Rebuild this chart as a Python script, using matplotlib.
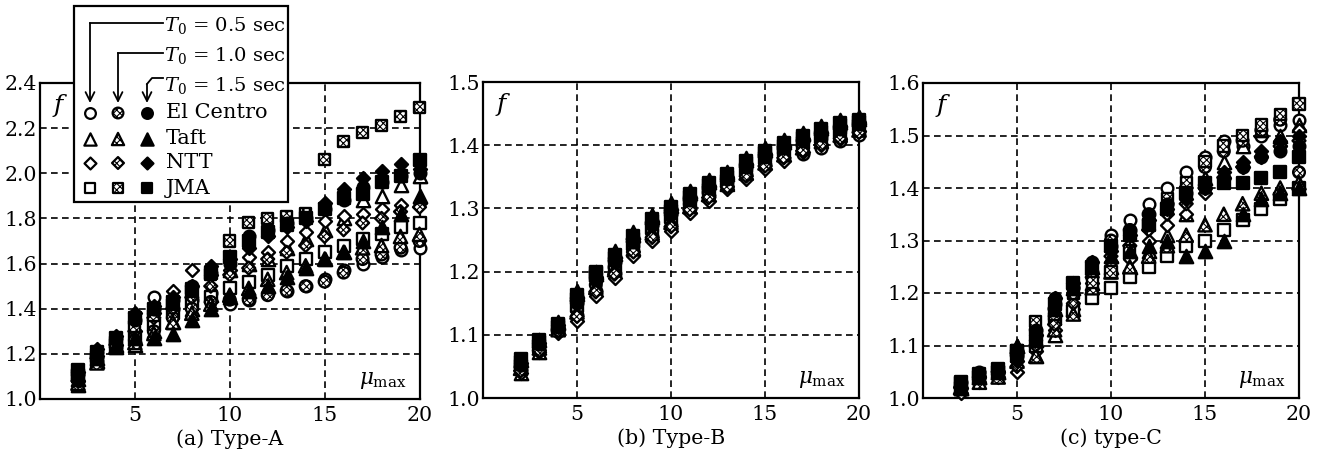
import matplotlib
matplotlib.use('Agg')
import matplotlib.pyplot as plt
from matplotlib.patches import Rectangle

plt.rcParams['font.family'] = 'DejaVu Serif'
plt.rcParams['mathtext.fontset'] = 'dejavuserif'
plt.rcParams['hatch.linewidth'] = 0.8

mu = list(range(2, 21))

# ---------------- Type-A ----------------
A_elc_05 = [1.08,1.17,1.23,1.25,1.45,1.40,1.44,1.47,1.42,1.44,1.47,1.48,1.50,1.53,1.57,1.60,1.63,1.66,1.67]
A_elc_10 = [1.09,1.17,1.23,1.26,1.30,1.36,1.40,1.43,1.44,1.44,1.46,1.48,1.50,1.52,1.56,1.62,1.64,1.67,1.70]
A_elc_15 = [1.11,1.21,1.27,1.35,1.40,1.44,1.50,1.56,1.60,1.72,1.75,1.78,1.80,1.84,1.88,1.94,1.96,1.99,2.00]
A_taft_05 = [1.06,1.17,1.23,1.24,1.30,1.34,1.40,1.46,1.57,1.60,1.62,1.67,1.71,1.75,1.80,1.88,1.90,1.95,1.99]
A_taft_10 = [1.07,1.16,1.23,1.25,1.29,1.34,1.38,1.42,1.46,1.49,1.53,1.56,1.59,1.62,1.65,1.67,1.68,1.72,1.73]
A_taft_15 = [1.09,1.18,1.24,1.27,1.27,1.29,1.35,1.40,1.45,1.48,1.50,1.54,1.58,1.62,1.65,1.70,1.76,1.82,1.90]
A_ntt_05 = [1.08,1.19,1.24,1.30,1.38,1.48,1.57,1.55,1.57,1.63,1.65,1.70,1.74,1.79,1.81,1.82,1.84,1.86,1.87]
A_ntt_10 = [1.08,1.18,1.24,1.30,1.36,1.40,1.45,1.50,1.55,1.58,1.62,1.65,1.68,1.72,1.75,1.78,1.80,1.83,1.85]
A_ntt_15 = [1.12,1.22,1.28,1.38,1.41,1.45,1.50,1.59,1.62,1.67,1.72,1.76,1.79,1.87,1.93,1.98,2.01,2.04,2.02]
A_jma_05 = [1.10,1.17,1.24,1.27,1.33,1.38,1.42,1.45,1.49,1.52,1.55,1.59,1.62,1.65,1.68,1.71,1.73,1.76,1.78]
A_jma_10 = [1.11,1.19,1.25,1.32,1.37,1.42,1.49,1.55,1.70,1.78,1.80,1.81,1.82,2.06,2.14,2.18,2.21,2.25,2.29]
A_jma_15 = [1.13,1.21,1.27,1.36,1.40,1.43,1.48,1.56,1.63,1.70,1.74,1.77,1.80,1.84,1.89,1.91,1.96,1.99,2.06]

# ---------------- Type-B ----------------
B_elc_05 = [1.044,1.076,1.106,1.132,1.170,1.198,1.232,1.256,1.274,1.300,1.319,1.336,1.353,1.369,1.380,1.386,1.396,1.406,1.416]
B_elc_10 = [1.049,1.081,1.110,1.141,1.179,1.207,1.240,1.265,1.282,1.307,1.325,1.341,1.360,1.376,1.388,1.400,1.410,1.420,1.427]
B_elc_15 = [1.053,1.085,1.113,1.151,1.187,1.215,1.247,1.273,1.291,1.313,1.332,1.347,1.366,1.382,1.395,1.406,1.416,1.426,1.433]
B_taft_05 = [1.040,1.072,1.120,1.170,1.200,1.232,1.262,1.290,1.308,1.327,1.345,1.358,1.380,1.396,1.408,1.420,1.430,1.440,1.444]
B_taft_10 = [1.047,1.079,1.108,1.136,1.175,1.203,1.236,1.261,1.278,1.303,1.322,1.338,1.356,1.372,1.385,1.396,1.406,1.416,1.424]
B_taft_15 = [1.060,1.092,1.118,1.165,1.196,1.228,1.258,1.286,1.304,1.324,1.342,1.355,1.377,1.393,1.405,1.417,1.427,1.437,1.441]
B_ntt_05 = [1.040,1.072,1.103,1.122,1.162,1.190,1.225,1.248,1.265,1.293,1.312,1.330,1.346,1.362,1.375,1.390,1.400,1.410,1.422]
B_ntt_10 = [1.043,1.075,1.106,1.129,1.168,1.196,1.231,1.254,1.271,1.298,1.317,1.334,1.351,1.367,1.380,1.391,1.401,1.411,1.420]
B_ntt_15 = [1.055,1.087,1.115,1.156,1.191,1.219,1.251,1.277,1.295,1.317,1.335,1.350,1.370,1.386,1.398,1.410,1.420,1.430,1.436]
B_jma_05 = [1.051,1.083,1.112,1.146,1.200,1.211,1.244,1.269,1.287,1.310,1.329,1.344,1.363,1.379,1.392,1.403,1.413,1.423,1.430]
B_jma_10 = [1.057,1.089,1.116,1.158,1.194,1.222,1.253,1.280,1.297,1.319,1.337,1.351,1.372,1.388,1.400,1.412,1.422,1.432,1.437]
B_jma_15 = [1.062,1.091,1.117,1.163,1.198,1.226,1.256,1.284,1.302,1.322,1.340,1.354,1.375,1.391,1.403,1.415,1.425,1.435,1.440]

# ---------------- Type-C ----------------
C_elc_05 = [1.02,1.04,1.05,1.08,1.12,1.18,1.21,1.24,1.31,1.34,1.37,1.40,1.43,1.46,1.49,1.48,1.50,1.52,1.53]
C_elc_10 = [1.02,1.04,1.05,1.08,1.13,1.17,1.21,1.23,1.30,1.32,1.35,1.37,1.40,1.44,1.47,1.49,1.51,1.53,1.43]
C_elc_15 = [1.03,1.05,1.05,1.09,1.13,1.19,1.22,1.26,1.29,1.32,1.35,1.37,1.39,1.40,1.42,1.44,1.46,1.47,1.48]
C_taft_05 = [1.02,1.04,1.05,1.10,1.08,1.12,1.17,1.22,1.25,1.25,1.28,1.31,1.35,1.42,1.45,1.48,1.51,1.50,1.52]
C_taft_10 = [1.02,1.03,1.04,1.07,1.08,1.13,1.16,1.21,1.24,1.25,1.27,1.29,1.31,1.33,1.35,1.37,1.39,1.40,1.41]
C_taft_15 = [1.02,1.04,1.05,1.10,1.11,1.17,1.21,1.25,1.27,1.28,1.29,1.30,1.27,1.28,1.30,1.35,1.38,1.39,1.40]
C_ntt_05 = [1.01,1.03,1.04,1.05,1.09,1.13,1.17,1.22,1.26,1.265,1.30,1.33,1.35,1.39,1.42,1.44,1.46,1.48,1.51]
C_ntt_10 = [1.02,1.04,1.05,1.06,1.10,1.14,1.18,1.23,1.27,1.29,1.32,1.35,1.37,1.40,1.42,1.44,1.46,1.48,1.49]
C_ntt_15 = [1.02,1.04,1.05,1.07,1.12,1.19,1.22,1.26,1.28,1.31,1.34,1.36,1.38,1.40,1.43,1.45,1.47,1.49,1.50]
C_jma_05 = [1.02,1.04,1.05,1.09,1.10,1.15,1.165,1.19,1.21,1.23,1.25,1.27,1.29,1.30,1.32,1.34,1.36,1.38,1.40]
C_jma_10 = [1.03,1.04,1.05,1.09,1.145,1.16,1.20,1.22,1.24,1.28,1.33,1.38,1.41,1.45,1.48,1.50,1.52,1.54,1.56]
C_jma_15 = [1.03,1.045,1.055,1.08,1.12,1.18,1.22,1.25,1.29,1.31,1.33,1.36,1.39,1.41,1.41,1.41,1.42,1.43,1.46]

records = ['El Centro', 'Taft', 'NTT', 'JMA']
periods = ['0.5', '1.0', '1.5']
panel_titles = ['(a) Type-A', '(b) Type-B', '(c) type-C']
y_limits = [(1.0, 2.4), (1.0, 1.5), (1.0, 1.6)]
y_ticks = [[1.0, 1.2, 1.4, 1.6, 1.8, 2.0, 2.2, 2.4],
           [1.0, 1.1, 1.2, 1.3, 1.4, 1.5],
           [1.0, 1.1, 1.2, 1.3, 1.4, 1.5, 1.6]]
x_ticks = [5, 10, 15, 20]

panels = [
    {'El Centro': [A_elc_05, A_elc_10, A_elc_15], 'Taft': [A_taft_05, A_taft_10, A_taft_15],
     'NTT': [A_ntt_05, A_ntt_10, A_ntt_15], 'JMA': [A_jma_05, A_jma_10, A_jma_15]},
    {'El Centro': [B_elc_05, B_elc_10, B_elc_15], 'Taft': [B_taft_05, B_taft_10, B_taft_15],
     'NTT': [B_ntt_05, B_ntt_10, B_ntt_15], 'JMA': [B_jma_05, B_jma_10, B_jma_15]},
    {'El Centro': [C_elc_05, C_elc_10, C_elc_15], 'Taft': [C_taft_05, C_taft_10, C_taft_15],
     'NTT': [C_ntt_05, C_ntt_10, C_ntt_15], 'JMA': [C_jma_05, C_jma_10, C_jma_15]},
]

marker_of = {'El Centro': 'o', 'Taft': '^', 'NTT': 'D', 'JMA': 's'}
msize_of = {'El Centro': 8.4, 'Taft': 9.6, 'NTT': 6.6, 'JMA': 8.0}


def style(k):
    if k == 0:
        return dict(facecolors='white', edgecolors='black')
    if k == 1:
        return dict(facecolors='white', edgecolors='black', hatch='xxxxx')
    return dict(facecolors='black', edgecolors='black')


fig = plt.figure(figsize=(13.29, 4.54), dpi=100)
boxes = [[40/1329, 1-399/454, 379.5/1329, 316/454],
         [483/1329, 1-398/454, 376/1329, 316/454],
         [923/1329, 1-398/454, 376/1329, 315/454]]

FS = 14.8
for p in range(3):
    ax = fig.add_axes(boxes[p])
    ax.set_xlim(0, 20)
    ax.set_ylim(*y_limits[p])
    ax.set_xticks(x_ticks)
    ax.set_yticks(y_ticks[p])
    ax.set_yticklabels(['%.1f' % v for v in y_ticks[p]])
    ax.tick_params(length=0, labelsize=FS)
    ax.tick_params(axis='y', pad=2)
    ax.tick_params(axis='x', pad=5)
    for sp in ax.spines.values():
        sp.set_linewidth(1.6)
    ax.set_axisbelow(True)
    ax.grid(True, color='black', linestyle=(0, (4, 2.6)), linewidth=1.2)
    # open first, hatched next, filled on top
    for k in [0, 1, 2]:
        for rec in records:
            ax.scatter(mu, panels[p][rec][k], marker=marker_of[rec],
                       s=msize_of[rec]**2, linewidths=1.7, clip_on=False,
                       zorder=3, **style(k))
    ax.text(0.035, 0.93, 'f', transform=ax.transAxes, fontsize=18,
            style='italic', ha='left', va='center')
    ax.text(0.965, 0.06, r'$\mu_{\rm max}$', transform=ax.transAxes,
            fontsize=15.5, ha='right', va='center')
    ax.text(0.5, -0.128, panel_titles[p], transform=ax.transAxes,
            fontsize=FS, ha='center', va='center')

# ---------------- legend (drawn in pixel coordinates) ----------------
lg = fig.add_axes([0, 0, 1, 1], zorder=10)
lg.set_xlim(0, 1329)
lg.set_ylim(454, 0)
lg.axis('off')
lg.add_patch(Rectangle((74, 6), 214, 196, facecolor='white', edgecolor='black', lw=1.6))

col_x = [90, 118, 147]
row_y = [113, 139, 163, 188]
for i, rec in enumerate(records):
    for k in range(3):
        lg.scatter([col_x[k]], [row_y[i]], marker=marker_of[rec], s=(msize_of[rec]*0.92)**2,
                   linewidths=1.6, zorder=12, **style(k))
    lg.text(166, row_y[i], rec, fontsize=15, ha='left', va='center')

t_y = [25, 55, 85]
for k, per in enumerate(periods):
    lg.text(164, t_y[k], r'$T_0$' + ' = ' + per + ' sec', fontsize=14, ha='left', va='center')

arrow_kw = dict(arrowstyle='->', lw=1.3, color='black', mutation_scale=16, shrinkA=0, shrinkB=0)
# 0.5 sec
lg.plot([163, 90], [23, 23], color='black', lw=1.3)
lg.annotate('', xy=(90, 103), xytext=(90, 23), arrowprops=arrow_kw)
# 1.0 sec
lg.plot([163, 118], [53, 53], color='black', lw=1.3)
lg.annotate('', xy=(118, 103), xytext=(118, 53), arrowprops=arrow_kw)
# 1.5 sec
lg.plot([163, 152, 147], [78, 78, 84], color='black', lw=1.3)
lg.annotate('', xy=(147, 103), xytext=(147, 84), arrowprops=arrow_kw)

fig.savefig('out.png', dpi=100)
